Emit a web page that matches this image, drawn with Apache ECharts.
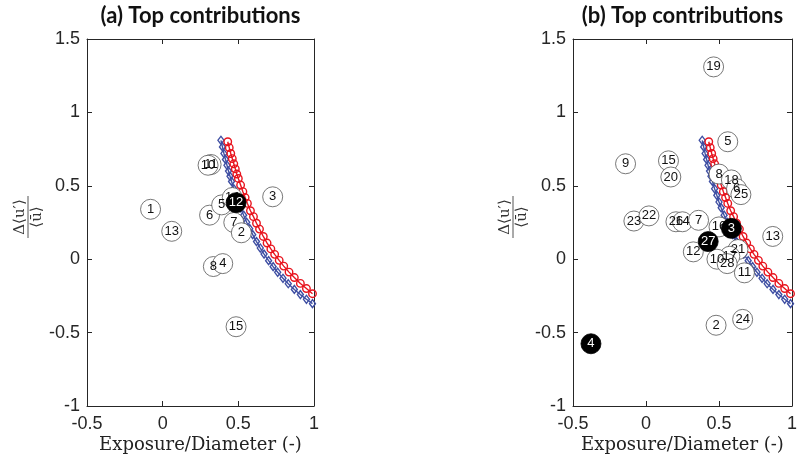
<!DOCTYPE html>
<html>
<head>
<meta charset="utf-8">
<script src="https://cdn.jsdelivr.net/npm/echarts@6/dist/echarts.min.js"></script>
<style>
  html, body { margin: 0; padding: 0; background: #fff; }
  #chart { width: 800px; height: 461px; }
</style>
</head>
<body>
<div id="chart"></div>
<script>
// Axis ranges and ticks
const xMin = -0.5, xMax = 1, xStep = 0.5;
const yMin = -1, yMax = 1.5, yStep = 0.5;
const panelTitles = ['(a) Top contributions', '(b) Top contributions'];
const xName = 'Exposure/Diameter (-)';
const yNameTop = 'Δ⟨u′⟩';
const yNameBottom = '⟨ū⟩';

// Panel (a): plain runs
const aIds = ['1', '13', '11', '10', '6', '5', '14', '3', '7', '2', '8', '4', '15'];
const aX   = [-0.08, 0.06, 0.32, 0.30, 0.31, 0.39, 0.46, 0.727, 0.47, 0.52, 0.335, 0.397, 0.485];
const aY   = [0.34, 0.19, 0.645, 0.64, 0.30, 0.37, 0.42, 0.425, 0.25, 0.18, -0.05, -0.03, -0.46];
// Panel (a): highlighted runs
const aHiIds = ['12'];
const aHiX   = [0.485];
const aHiY   = [0.385];

// Panel (b): plain runs
const bIds = ['9', '15', '20', '19', '5', '8', '18', '6', '25', '23', '22', '26', '14', '7', '16',
              '12', '13', '21', '17', '10', '28', '11', '2', '24'];
const bX   = [-0.14, 0.154, 0.17, 0.463, 0.56, 0.50, 0.585, 0.62, 0.65, -0.083, 0.02, 0.205, 0.25, 0.36, 0.50,
              0.324, 0.868, 0.63, 0.574, 0.486, 0.556, 0.674, 0.48, 0.662];
const bY   = [0.65, 0.67, 0.56, 1.31, 0.80, 0.58, 0.54, 0.48, 0.44, 0.26, 0.295, 0.255, 0.255, 0.265, 0.22,
              0.05, 0.155, 0.066, 0.02, 0.0, -0.03, -0.093, -0.45, -0.41];
// Panel (b): highlighted runs
const bHiIds = ['3', '27', '4'];
const bHiX   = [0.585, 0.426, -0.377];
const bHiY   = [0.21, 0.12, -0.576];

// Boundary curves (same in both panels)
const redX  = [0.43, 0.44, 0.45, 0.46, 0.47, 0.48, 0.49, 0.50, 0.515, 0.53, 0.545, 0.56, 0.58, 0.60,
               0.62, 0.64, 0.665, 0.69, 0.715, 0.74, 0.77, 0.80, 0.835, 0.87, 0.91, 0.95, 0.99];
const redY  = [0.80, 0.76, 0.72, 0.685, 0.65, 0.615, 0.58, 0.55, 0.505, 0.46, 0.42, 0.38, 0.33, 0.29,
               0.245, 0.205, 0.155, 0.11, 0.07, 0.033, -0.008, -0.047, -0.088, -0.125, -0.165, -0.2, -0.235];
const blueX = [0.385, 0.395, 0.405, 0.415, 0.425, 0.435, 0.445, 0.455, 0.47, 0.485, 0.50, 0.515, 0.535, 0.555,
               0.575, 0.595, 0.62, 0.645, 0.67, 0.70, 0.73, 0.76, 0.795, 0.83, 0.87, 0.91, 0.95, 0.99];
const blueY = [0.81, 0.765, 0.72, 0.68, 0.64, 0.60, 0.565, 0.53, 0.48, 0.435, 0.39, 0.35, 0.30, 0.252,
               0.208, 0.167, 0.12, 0.076, 0.035, -0.01, -0.051, -0.089, -0.13, -0.167, -0.206, -0.241, -0.273, -0.303];

const zip = (xs, ys) => xs.map((x, i) => [x, ys[i]]);
const named = (ids, xs, ys) => ids.map((n, i) => ({ name: n, value: [xs[i], ys[i]] }));

const AX = '#262626';
const RED = '#e8141e';
const BLUE = '#3f4fa3';

const grids = [
  { left: 87, right: 486, top: 30, bottom: 55 },
  { left: 573, right: 1, top: 30, bottom: 55 }
];

const xAxes = [], yAxes = [];
grids.forEach((g, gi) => {
  const tick = { show: true, inside: true, length: 5, lineStyle: { color: AX, width: 1 } };
  const line = { show: true, onZero: false, lineStyle: { color: AX, width: 1 } };
  xAxes.push({
    gridIndex: gi, type: 'value', position: 'bottom', min: xMin, max: xMax, interval: xStep,
    axisLine: line, axisTick: tick, splitLine: { show: false },
    axisLabel: { color: AX, fontSize: 18, fontFamily: 'Liberation Sans', margin: 9 },
    name: xName, nameLocation: 'middle', nameGap: 30, nameMoveOverlap: false,
    nameTextStyle: { color: '#222', fontSize: 18, fontFamily: 'DejaVu Serif' }
  });
  xAxes.push({
    gridIndex: gi, type: 'value', position: 'top', min: xMin, max: xMax, interval: xStep,
    axisLine: line, axisTick: tick, splitLine: { show: false }, axisLabel: { show: false },
    name: panelTitles[gi], nameLocation: 'middle', nameGap: 12, nameMoveOverlap: false,
    nameTextStyle: { color: '#111', fontSize: 22, fontWeight: 'bold', fontFamily: 'Lato' }
  });
  yAxes.push({
    gridIndex: gi, type: 'value', position: 'left', min: yMin, max: yMax, interval: yStep,
    axisLine: line, axisTick: tick, splitLine: { show: false },
    axisLabel: { color: AX, fontSize: 18, fontFamily: 'Liberation Sans', margin: 7 }
  });
  yAxes.push({
    gridIndex: gi, type: 'value', position: 'right', min: yMin, max: yMax, interval: yStep,
    axisLine: line, axisTick: tick, splitLine: { show: false }, axisLabel: { show: false }
  });
});

// Vertical fraction used as the y-axis title of each panel
const fracCenters = [[28, 217], [513, 217]];
const graphic = fracCenters.map(([cx, cy]) => ({
  type: 'group', x: cx, y: cy, rotation: Math.PI / 2, silent: true,
  children: [
    { type: 'text', x: 0, y: -8,
      style: { text: yNameTop, font: '15px "DejaVu Serif"', fill: '#333', align: 'center', verticalAlign: 'middle' } },
    { type: 'line', shape: { x1: -21, y1: 0, x2: 21, y2: 0 }, style: { stroke: '#555', lineWidth: 1 } },
    { type: 'text', x: 0, y: 9,
      style: { text: yNameBottom, font: '15px "DejaVu Serif"', fill: '#333', align: 'center', verticalAlign: 'middle' } }
  ]
}));

function curveSeries(gi) {
  return [
    {
      type: 'line', xAxisIndex: gi * 2, yAxisIndex: gi * 2, data: zip(blueX, blueY),
      symbol: 'diamond', symbolSize: [6, 8],
      lineStyle: { color: BLUE, width: 1.4 },
      itemStyle: { color: 'rgba(0,0,0,0)', borderColor: BLUE, borderWidth: 1.4 },
      z: 3, silent: true
    },
    {
      type: 'line', xAxisIndex: gi * 2, yAxisIndex: gi * 2, data: zip(redX, redY),
      symbol: 'circle', symbolSize: 7.5,
      lineStyle: { color: RED, width: 1.4 },
      itemStyle: { color: 'rgba(0,0,0,0)', borderColor: RED, borderWidth: 1.4 },
      z: 4, silent: true
    }
  ];
}

function runSeries(gi, data, filled) {
  return {
    type: 'scatter', xAxisIndex: gi * 2, yAxisIndex: gi * 2, data: data,
    symbol: 'circle', symbolSize: 20,
    itemStyle: filled
      ? { color: '#000', borderColor: '#000', borderWidth: 0.8, opacity: 1 }
      : { color: '#fff', borderColor: '#555', borderWidth: 0.8, opacity: 1 },
    label: {
      show: true, position: 'inside', formatter: p => p.name,
      color: filled ? '#fff' : '#111', fontSize: 13, fontFamily: 'Liberation Sans'
    },
    z: filled ? 6 : 5, silent: true
  };
}

const series = [
  ...curveSeries(0),
  runSeries(0, named(aIds, aX, aY), false),
  runSeries(0, named(aHiIds, aHiX, aHiY), true),
  ...curveSeries(1),
  runSeries(1, named(bIds, bX, bY), false),
  runSeries(1, named(bHiIds, bHiX, bHiY), true)
];

const chart = echarts.init(document.getElementById('chart'), null, { renderer: 'canvas' });
chart.setOption({
  animation: false,
  backgroundColor: '#fff',
  grid: grids,
  xAxis: xAxes,
  yAxis: yAxes,
  graphic: graphic,
  series: series
});
</script>
</body>
</html>
